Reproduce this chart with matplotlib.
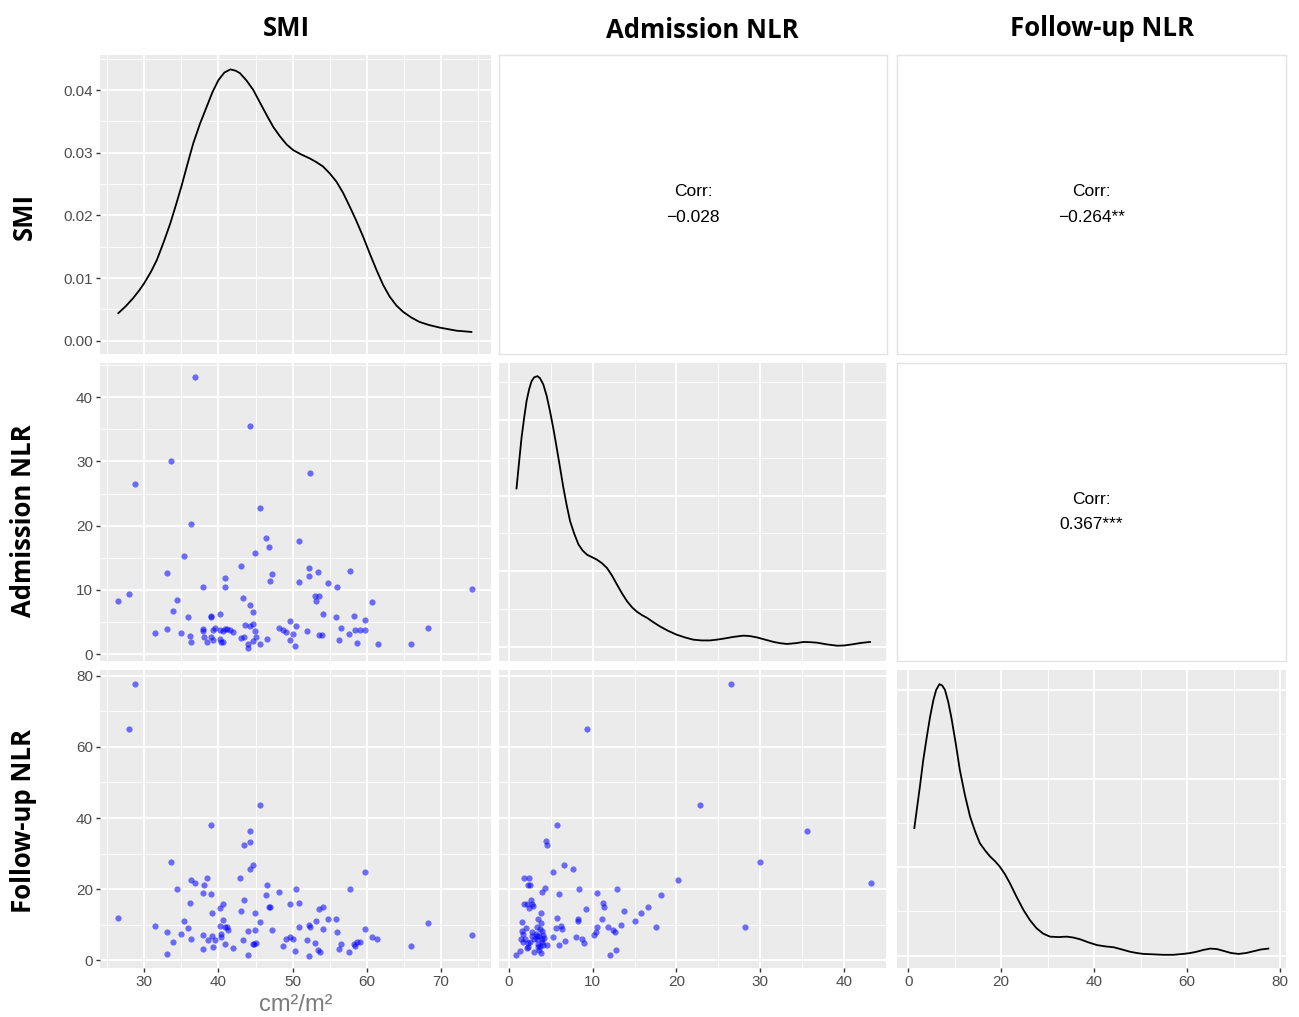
"""
Pairs plot of SMI, admission NLR and follow-up NLR (ggpairs look-alike).
"""

import matplotlib
matplotlib.use("Agg")
import matplotlib.pyplot as plt

# ─── Data ──────────────────────────────────────────────────────────────────────

VARS = ["SMI", "Admission NLR", "Follow-up NLR"]
CORR_TEXT = {(0, 1): "Corr:\n\u22120.028", (0, 2): "Corr:\n\u22120.264**", (1, 2): "Corr:\n0.367***"}
X_UNIT = "cm\u00b2/m\u00b2"

# SMI vs admission NLR
SMI_A = [26.5, 28.0, 28.7, 31.4, 33.0, 33.1, 33.6, 33.9, 34.4, 34.9, 35.3, 35.9, 36.2, 36.3, 36.3,
         36.8, 37.9, 37.9, 37.9, 38.1, 38.4, 39.0, 39.0, 39.0, 39.2, 39.2, 39.5, 40.2, 40.2, 40.2,
         40.3, 40.6, 40.6, 40.9, 40.9, 40.9, 41.2, 41.5, 41.9, 43.0, 43.0, 43.3, 43.5, 43.6, 44.0,
         44.0, 44.2, 44.2, 44.2, 44.7, 44.7, 44.6, 44.9, 44.9, 45.1, 45.6, 45.6, 46.4, 46.6, 46.8,
         47.0, 47.2, 48.2, 48.7, 49.1, 49.6, 49.7, 50.1, 50.3, 50.5, 50.9, 50.9, 52.0, 52.2, 52.2,
         52.4, 53.0, 53.1, 53.4, 53.6, 53.6, 54.0, 54.1, 54.8, 55.8, 56.0, 56.3, 56.5, 57.6, 57.7,
         58.3, 58.4, 58.7, 59.1, 59.7, 59.8, 60.7, 61.5, 65.9, 68.2, 74.2]
ADM_A = [8.3, 9.3, 26.5, 3.3, 12.7, 3.9, 30.0, 6.7, 8.4, 3.3, 15.2, 5.7, 2.8, 1.9, 20.2,
         43.2, 10.5, 3.9, 3.6, 2.6, 1.9, 5.9, 5.8, 2.6, 3.8, 2.2, 4.1, 6.2, 3.8, 2.4,
         1.8, 1.9, 3.6, 11.8, 10.5, 3.9, 3.9, 3.8, 3.4, 2.5, 13.7, 8.7, 2.6, 4.5, 1.6,
         1.0, 7.7, 35.6, 4.4, 2.1, 6.6, 4.6, 3.6, 15.8, 2.6, 22.8, 1.5, 18.1, 2.4, 16.6,
         11.4, 12.5, 4.0, 3.8, 3.4, 5.2, 2.2, 3.1, 1.3, 4.3, 17.6, 11.2, 3.6, 13.4, 12.1,
         28.2, 9.0, 8.2, 12.8, 9.1, 3.0, 2.9, 6.3, 11.1, 5.7, 10.4, 2.2, 4.1, 3.1, 12.9,
         6.0, 3.8, 1.7, 3.7, 5.3, 3.8, 8.1, 1.5, 1.6, 4.0, 10.1]

# SMI vs follow-up NLR
SMI_F = [26.5, 28.0, 28.7, 31.4, 33.0, 33.1, 33.6, 33.9, 34.4, 34.9, 35.3, 35.9, 36.2, 36.3, 36.3,
         36.8, 37.9, 37.9, 37.9, 38.1, 38.4, 38.6, 39.0, 39.0, 39.1, 39.1, 39.3, 39.5, 40.2, 40.2,
         40.3, 40.3, 40.6, 40.6, 40.9, 40.9, 41.2, 41.3, 41.9, 42.9, 43.0, 43.3, 43.5, 43.5, 44.0,
         44.0, 44.2, 44.2, 44.2, 44.7, 44.7, 44.8, 44.9, 44.9, 45.1, 45.6, 45.6, 46.4, 46.6, 46.8,
         47.0, 47.2, 48.2, 48.7, 49.1, 49.6, 49.7, 50.1, 50.3, 50.5, 50.9, 50.9, 52.0, 52.2, 52.2,
         52.4, 53.0, 53.1, 53.4, 53.6, 53.7, 54.1, 54.1, 54.8, 55.8, 56.0, 56.3, 56.5, 57.6, 57.7,
         58.3, 58.4, 58.7, 59.1, 59.7, 59.8, 60.7, 61.4, 65.9, 68.2, 74.2]
FU_F = [11.8, 64.9, 77.7, 9.6, 7.9, 1.9, 27.6, 5.2, 20.0, 7.5, 11.1, 9.1, 16.1, 6.0, 22.5,
        21.7, 18.9, 7.2, 3.2, 21.3, 23.0, 5.6, 18.6, 37.9, 13.3, 6.8, 3.7, 5.6, 14.6, 9.6,
        7.5, 6.6, 15.7, 11.4, 4.5, 9.4, 9.4, 8.4, 3.6, 23.2, 14.0, 5.7, 32.4, 17.0, 8.2,
        1.4, 25.6, 36.3, 33.3, 4.5, 26.7, 4.5, 13.3, 8.6, 4.9, 43.7, 10.8, 18.3, 21.1, 14.9,
        14.9, 8.6, 19.2, 4.0, 6.0, 6.6, 15.7, 6.0, 2.5, 20.1, 16.1, 9.4, 5.6, 9.8, 1.3,
        9.4, 4.9, 11.1, 2.8, 14.5, 2.2, 15.0, 8.8, 11.6, 11.6, 7.9, 3.2, 4.5, 2.4, 20.1,
        4.5, 3.9, 5.1, 5.2, 24.9, 8.8, 6.6, 6.0, 3.9, 10.4, 7.1]

# admission NLR vs follow-up NLR
ADM_P = [26.5, 9.3, 22.8, 35.6, 30.0, 43.2, 20.2, 28.2, 5.7, 4.4, 4.5, 6.6, 7.6, 5.2, 1.8,
         2.4, 2.3, 2.5, 4.0, 4.3, 6.0, 8.4, 10.5, 12.9, 18.1, 16.6, 15.8, 13.7, 11.2, 11.4,
         9.2, 15.1, 13.4, 17.6, 11.8, 12.4, 12.7, 11.1, 10.5, 10.4, 10.1, 8.2, 8.2, 8.0, 8.7,
         8.9, 12.8, 12.1, 6.7, 6.0, 5.2, 5.6, 6.2, 6.3, 5.7, 3.8, 3.5, 1.8, 2.2, 2.6,
         2.7, 2.4, 2.9, 1.5, 1.6, 1.7, 1.4, 1.7, 1.9, 2.1, 1.3, 0.8, 2.3, 2.7, 3.0,
         3.3, 3.7, 3.8, 3.9, 3.6, 3.3, 4.0, 3.5, 3.0, 3.8, 4.5, 4.1, 3.9, 2.5, 3.3,
         3.7, 4.1, 3.5, 2.3, 3.2, 4.2, 2.0, 3.6, 2.8]
FU_P = [77.7, 64.9, 43.7, 36.3, 27.6, 21.8, 22.6, 9.4, 37.9, 33.5, 32.5, 26.7, 25.7, 24.9, 23.0,
        23.2, 21.3, 21.3, 19.3, 20.2, 18.6, 20.0, 18.9, 20.0, 18.3, 15.0, 13.2, 14.0, 16.1, 15.0,
        14.5, 11.1, 10.0, 9.4, 9.3, 8.5, 7.9, 11.7, 9.5, 7.9, 7.2, 11.6, 11.1, 6.6, 5.9,
        5.0, 2.9, 1.4, 5.3, 4.4, 6.6, 9.1, 9.6, 8.8, 11.8, 13.4, 11.5, 15.8, 15.7, 17.0,
        15.9, 14.7, 15.2, 10.8, 8.2, 7.3, 6.0, 5.1, 5.9, 3.4, 2.6, 1.4, 4.8, 6.9, 5.9,
        9.5, 8.8, 10.5, 8.1, 6.9, 5.9, 5.9, 3.7, 2.4, 2.0, 4.3, 4.4, 5.2, 5.2, 6.9,
        4.0, 7.1, 4.5, 3.8, 7.5, 6.2, 9.0, 3.0, 8.0]

# density curves on the diagonal
DENS_SMI_X = [26.5, 27.5, 28.5, 29.3, 30.0, 30.9, 31.7, 32.6, 33.5, 34.3, 35.0, 35.8, 36.6, 37.5,
              38.4, 39.2, 40.0, 40.8, 41.6, 42.3, 42.9, 43.8, 44.7, 45.6, 46.5, 47.4, 48.3, 49.2,
              50.1, 51.2, 52.3, 53.2, 54.1, 55.0, 55.9, 56.8, 57.7, 58.6, 59.5, 60.4, 61.3, 62.2,
              63.1, 64.0, 64.9, 66.0, 67.1, 68.4, 69.8, 72.1, 74.1]
DENS_SMI_Y = [0.0044, 0.0055, 0.0068, 0.0080, 0.0092, 0.0110, 0.0129, 0.0157, 0.0187, 0.0218,
              0.0246, 0.0281, 0.0315, 0.0346, 0.0373, 0.0397, 0.0416, 0.0428, 0.0433, 0.0431,
              0.0427, 0.0415, 0.0400, 0.0380, 0.0360, 0.0341, 0.0326, 0.0313, 0.0304, 0.0297,
              0.0291, 0.0285, 0.0278, 0.0267, 0.0254, 0.0236, 0.0214, 0.0191, 0.0166, 0.0139,
              0.0113, 0.0089, 0.0070, 0.0056, 0.0046, 0.0037, 0.0030, 0.0025, 0.0021, 0.0016,
              0.0014]

DENS_ADM_X = [0.9, 1.2, 1.5, 1.8, 2.1, 2.4, 2.7, 3.0, 3.4, 3.7, 4.1, 4.5, 4.9, 5.3, 5.7, 6.1, 6.5,
              6.9, 7.3, 7.8, 8.3, 8.8, 9.3, 9.9, 10.5, 11.1, 11.7, 12.3, 12.9, 13.5, 14.1, 14.7,
              15.3, 15.9, 16.5, 17.2, 18.0, 19.0, 20.0, 21.0, 22.0, 23.0, 24.0, 24.8, 25.6, 26.8,
              28.0, 28.8, 29.6, 30.6, 31.6, 32.4, 33.2, 34.2, 35.2, 36.0, 36.8, 38.0, 39.2, 40.0,
              40.7, 42.0, 43.1]
DENS_ADM_Y = [0.0628, 0.0730, 0.0829, 0.0905, 0.0974, 0.1020, 0.1053, 0.1068, 0.1073, 0.1065,
              0.1040, 0.0995, 0.0934, 0.0865, 0.0789, 0.0710, 0.0630, 0.0560, 0.0498, 0.0448,
              0.0406, 0.0382, 0.0366, 0.0356, 0.0346, 0.0332, 0.0313, 0.0283, 0.0247, 0.0212,
              0.0181, 0.0157, 0.0139, 0.0126, 0.0115, 0.0099, 0.0082, 0.0064, 0.0049, 0.0038,
              0.0029, 0.0026, 0.0026, 0.0029, 0.0033, 0.0040, 0.0045, 0.0043, 0.0038, 0.0029,
              0.0020, 0.0015, 0.0012, 0.0015, 0.0020, 0.0019, 0.0017, 0.0010, 0.0005, 0.0006,
              0.0009, 0.0016, 0.0020]

DENS_FU_X = [1.3, 1.9, 2.5, 3.2, 4.0, 4.7, 5.4, 6.0, 6.7, 7.3, 7.9, 8.6, 9.3, 10.2, 11.1, 12.2,
             13.3, 14.4, 15.4, 16.5, 17.6, 18.7, 19.7, 20.8, 21.9, 23.3, 24.8, 26.2, 27.6, 29.0,
             30.5, 32.3, 34.1, 35.5, 37.0, 38.8, 40.6, 42.4, 44.2, 46.0, 47.7, 49.2, 50.6, 52.8,
             54.9, 57.0, 59.2, 60.7, 62.1, 63.5, 65.0, 66.4, 67.8, 69.5, 71.1, 72.7, 74.3, 75.9,
             77.5]
DENS_FU_Y = [0.0288, 0.0335, 0.0382, 0.0440, 0.0495, 0.0540, 0.0577, 0.0600, 0.0613, 0.0610,
             0.0600, 0.0573, 0.0536, 0.0480, 0.0419, 0.0362, 0.0314, 0.0280, 0.0254, 0.0238,
             0.0224, 0.0213, 0.0201, 0.0184, 0.0163, 0.0133, 0.0103, 0.0080, 0.0062, 0.0050,
             0.0043, 0.0042, 0.0043, 0.0041, 0.0037, 0.0030, 0.0024, 0.0021, 0.0019, 0.0014,
             0.0009, 0.0006, 0.0004, 0.0003, 0.0002, 0.0002, 0.0004, 0.0006, 0.0009, 0.0013,
             0.0016, 0.0015, 0.0011, 0.0006, 0.0004, 0.0006, 0.0010, 0.0014, 0.0016]

# ─── Layout (pixels) ───────────────────────────────────────────────────────────

W, H = 1299, 1017
COL_EDGES = [(100, 491), (499, 887), (897, 1286)]
ROW_EDGES = [(55, 354), (363, 661), (670, 968)]

X_LIM = [(24.03, 76.74), (-1.19, 45.13), (-2.43, 81.3)]
Y_LIM = [(-0.00212, 0.0456), (-1.09, 45.35), (-2.16, 81.6)]
X_MAJOR = [[30, 40, 50, 60, 70], [0, 10, 20, 30, 40], [0, 20, 40, 60, 80]]
X_MINOR = [[25, 35, 45, 55, 65, 75], [5, 15, 25, 35, 45], [10, 30, 50, 70]]
Y_MAJOR = [[0, 0.01, 0.02, 0.03, 0.04], [0, 10, 20, 30, 40], [0, 20, 40, 60, 80]]
Y_MINOR = [[0.005, 0.015, 0.025, 0.035, 0.045], [5, 15, 25, 35, 45], [10, 30, 50, 70]]

# diagonal density panels (other than SMI) keep their own y scale
DIAG_YLIM = {1: (-0.00555, 0.1125), 2: (-0.00278, 0.0645)}
DIAG_YMAJOR = {1: [0, 0.03, 0.06, 0.09], 2: [0, 0.02, 0.04, 0.06]}
DIAG_YMINOR = {1: [0.015, 0.045, 0.075, 0.105], 2: [0.01, 0.03, 0.05]}

BG = "#EBEBEB"
TICK_COLOR = "#4D4D4D"
POINT_COLOR = "blue"
TITLE_FONT = ["Open Sans", "DejaVu Sans"]

plt.rcParams["font.family"] = ["Liberation Sans", "DejaVu Sans"]


def make_ax(fig, r, c):
    x0, x1 = COL_EDGES[c]
    y0, y1 = ROW_EDGES[r]
    return fig.add_axes([x0 / W, 1 - y1 / H, (x1 - x0) / W, (y1 - y0) / H])


def style_grid(ax, r, c):
    ax.set_facecolor(BG)
    for s in ax.spines.values():
        s.set_visible(False)
    ax.set_xlim(*X_LIM[c])
    if r == c and r > 0:
        ax.set_ylim(*DIAG_YLIM[r])
        ymaj, ymin = DIAG_YMAJOR[r], DIAG_YMINOR[r]
    else:
        ax.set_ylim(*Y_LIM[r])
        ymaj, ymin = Y_MAJOR[r], Y_MINOR[r]
    ax.set_xticks(X_MAJOR[c])
    ax.set_xticks(X_MINOR[c], minor=True)
    ax.set_yticks(ymaj)
    ax.set_yticks(ymin, minor=True)
    ax.grid(True, which="major", color="white", lw=1.3)
    ax.grid(True, which="minor", color="white", lw=0.6)
    ax.set_axisbelow(True)
    ax.tick_params(which="minor", length=0)
    ax.tick_params(which="major", length=3, width=1, color="#333333",
                   labelsize=11, labelcolor=TICK_COLOR, pad=2)
    if r != 2:
        ax.tick_params(axis="x", which="major", bottom=False, labelbottom=False)
    if c != 0:
        ax.tick_params(axis="y", which="major", left=False, labelleft=False)


# ─── Figure ────────────────────────────────────────────────────────────────────

fig = plt.figure(figsize=(W / 100, H / 100), dpi=100)

scatter_data = {
    (1, 0): (SMI_A, ADM_A),
    (2, 0): (SMI_F, FU_F),
    (2, 1): (ADM_P, FU_P),
}
density_data = {
    0: (DENS_SMI_X, DENS_SMI_Y),
    1: (DENS_ADM_X, DENS_ADM_Y),
    2: (DENS_FU_X, DENS_FU_Y),
}

for r in range(3):
    for c in range(3):
        ax = make_ax(fig, r, c)
        if c > r:
            # correlation panel
            ax.set_facecolor("white")
            ax.set_xticks([])
            ax.set_yticks([])
            for s in ax.spines.values():
                s.set_color("#E3E3E3")
                s.set_linewidth(1.0)
            ax.text(0.5, 0.5, CORR_TEXT[(r, c)], ha="center", va="center",
                    fontsize=12.5, color="black", linespacing=1.85, transform=ax.transAxes)
            continue
        style_grid(ax, r, c)
        if r == c:
            xs, ys = density_data[r]
            ax.plot(xs, ys, color="black", lw=1.3, solid_joinstyle="round")
        else:
            xs, ys = scatter_data[(r, c)]
            ax.scatter(xs, ys, s=20, color=POINT_COLOR, alpha=0.55, linewidths=0)
        if r == 0 and c == 0:
            ax.yaxis.set_major_formatter(plt.FormatStrFormatter("%.2f"))

# column titles and row labels
TITLE_X = [286, 702, 1102]
TITLE_Y = [28, 31, 28]
for c, name in enumerate(VARS):
    fig.text(TITLE_X[c] / W, 1 - TITLE_Y[c] / H, name, ha="center", va="center",
             fontsize=18.5, fontweight="bold", family=TITLE_FONT)

ROW_Y = [216, 521, 821]
for r, name in enumerate(VARS):
    fig.text(24 / W, 1 - ROW_Y[r] / H, name, ha="center", va="center", rotation=90,
             fontsize=18.5, fontweight="bold", family=TITLE_FONT)

fig.text(296 / W, 1 - 1005 / H, X_UNIT, ha="center", va="center",
         fontsize=17, color="#7A7A7A")

fig.savefig("out.png", dpi=100)
